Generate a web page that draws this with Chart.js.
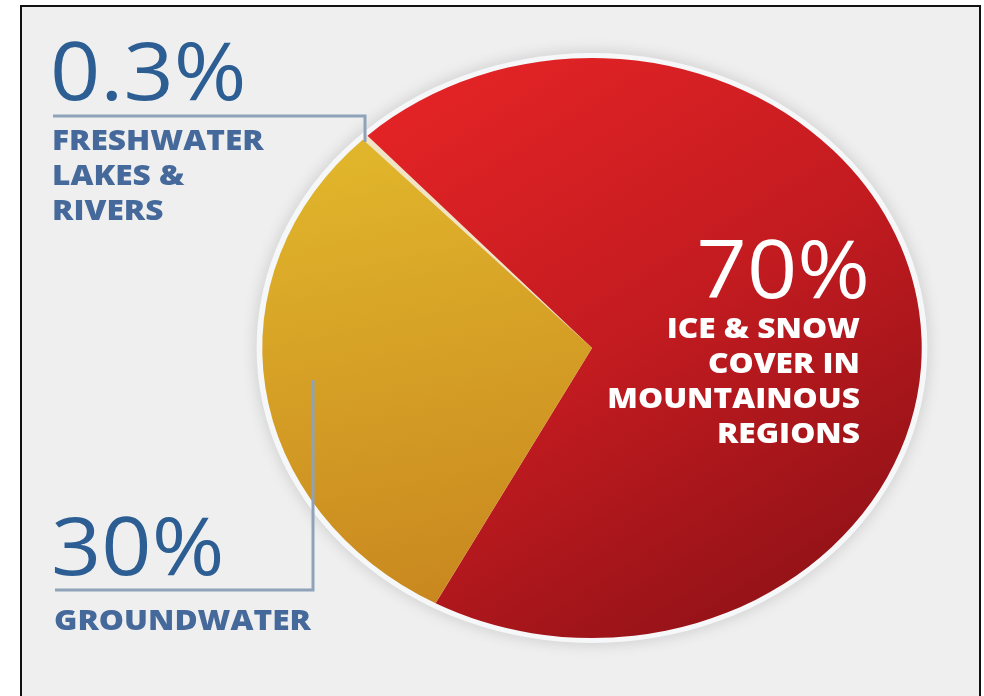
<!DOCTYPE html>
<html><head><meta charset="utf-8">
<script src="https://cdn.jsdelivr.net/npm/chart.js@4/dist/chart.umd.min.js"></script>
<style>
html,body{margin:0;padding:0;background:#fff;width:984px;height:696px;overflow:hidden}
#frame{position:absolute;left:20px;top:5px;width:961px;height:720px;border:2px solid #111;background:#efefef;box-sizing:border-box}
canvas{position:absolute;left:0;top:0}
</style></head><body>
<div id="frame"></div>
<canvas id="c" width="984" height="696"></canvas>
<script>
const categories = ['FRESHWATER LAKES & RIVERS', 'ICE & SNOW COVER IN MOUNTAINOUS REGIONS', 'GROUNDWATER'];
const shares = [0.3, 70, 30];
const shareLabels = ['0.3%', '70%', '30%'];
const labelLines = [['FRESHWATER', 'LAKES &', 'RIVERS'], ['ICE & SNOW', 'COVER IN', 'MOUNTAINOUS', 'REGIONS'], ['GROUNDWATER']];

const SX = 332 / 292;

function center(chart) {
  const a = chart.chartArea;
  return { cx: (a.left + a.right) / 2, cy: (a.top + a.bottom) / 2 };
}

const stretch = {
  id: 'stretch',
  beforeDatasetsDraw(chart) {
    const ctx = chart.ctx;
    const { cx, cy } = center(chart);
    ctx.save();
    ctx.translate(cx, cy); ctx.scale(SX, 1); ctx.translate(-cx, -cy);
    const r = chart.getDatasetMeta(0).data[0].outerRadius;
    ctx.save();
    ctx.beginPath(); ctx.arc(cx, cy, r + 5, 0, Math.PI * 2);
    ctx.fillStyle = '#f6f7f8';
    ctx.shadowColor = 'rgba(0,0,0,0.16)'; ctx.shadowBlur = 16;
    ctx.fill();
    ctx.restore();
  },
  afterDatasetsDraw(chart) { chart.ctx.restore(); }
};

function wideText(ctx, t, x, y, sx) {
  ctx.save();
  ctx.translate(x, y); ctx.scale(sx, 1);
  ctx.fillText(t, 0, 0);
  ctx.restore();
}

const texts = {
  id: 'texts',
  afterDraw(chart) {
    const ctx = chart.ctx;
    ctx.save();
    // brackets
    ctx.strokeStyle = '#8ea3ba'; ctx.lineWidth = 3;
    ctx.beginPath(); ctx.moveTo(53, 116); ctx.lineTo(365, 116); ctx.lineTo(365, 142); ctx.stroke();
    ctx.beginPath(); ctx.moveTo(55, 590); ctx.lineTo(313, 590); ctx.lineTo(313, 380); ctx.stroke();

    const big = '400 80px "Open Sans"';
    const small = '800 28px "Open Sans"';
    const BS = 1.1, SS = 1.13;
    ctx.textBaseline = 'alphabetic';
    // freshwater
    ctx.textAlign = 'left';
    ctx.fillStyle = '#2c5e93'; ctx.font = big;
    wideText(ctx, shareLabels[0], 50, 100, BS);
    ctx.fillStyle = '#44699a'; ctx.font = small;
    labelLines[0].forEach((t, i) => wideText(ctx, t, 52, 150 + i * 35, SS));
    // groundwater
    ctx.fillStyle = '#2c5e93'; ctx.font = big;
    wideText(ctx, shareLabels[2], 51, 575, BS);
    ctx.fillStyle = '#44699a'; ctx.font = small;
    wideText(ctx, labelLines[2][0], 54, 630, SS);
    // ice & snow
    ctx.textAlign = 'right';
    ctx.fillStyle = '#ffffff'; ctx.font = big;
    wideText(ctx, shareLabels[1], 870, 298, BS);
    ctx.font = small;
    labelLines[1].forEach((t, i) => wideText(ctx, t, 860, 338 + i * 35, SS));
    ctx.restore();
  }
};

function sliceColor(c) {
  const chart = c.chart, a = chart.chartArea;
  const fallback = ['#f0e4c4', '#c01a1f', '#d6a226'][c.dataIndex];
  if (!a) return fallback;
  const { cx, cy } = center(chart);
  const g2 = chart.ctx;
  if (c.dataIndex === 1) {
    const g = g2.createLinearGradient(cx - 150, cy - 290, cx + 240, cy + 260);
    g.addColorStop(0, '#e62426'); g.addColorStop(0.5, '#c21b20'); g.addColorStop(1, '#8c1116');
    return g;
  }
  if (c.dataIndex === 2) {
    const g = g2.createLinearGradient(cx - 230, cy - 180, cx - 130, cy + 250);
    g.addColorStop(0, '#e0b42b'); g.addColorStop(1, '#c9881f');
    return g;
  }
  return fallback;
}

new Chart(document.getElementById('c'), {
  type: 'pie',
  data: {
    labels: categories,
    datasets: [{ data: shares, backgroundColor: sliceColor, borderWidth: 0 }]
  },
  options: {
    responsive: false,
    animation: false,
    events: [],
    rotation: 316,
    layout: { padding: { left: 302, right: 102, top: 56, bottom: 56 } },
    plugins: { legend: { display: false }, tooltip: { enabled: false } }
  },
  plugins: [stretch, texts]
});
</script>
</body></html>
